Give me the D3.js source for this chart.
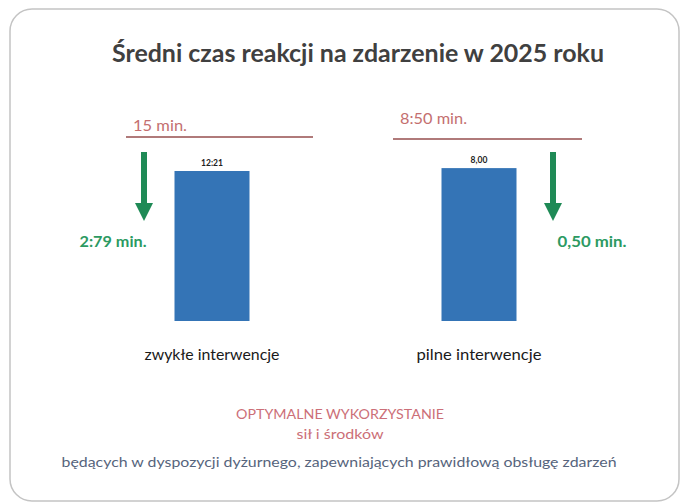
<!DOCTYPE html>
<html>
<head>
<meta charset="utf-8">
<script src="https://cdn.jsdelivr.net/npm/d3@7"></script>
<style>
  html, body { margin: 0; padding: 0; background: #fff; }
  svg { display: block; font-family: Lato, "Open Sans", sans-serif; }
</style>
</head>
<body>
<svg id="chart"></svg>
<script>
// data
let categories = ["zwykłe interwencje", "pilne interwencje"];
let values = [12.21, 8.00];
let valueLabels = ["12:21", "8,00"];
let axisMax = [14, 9];              // each bar sits on its own axis
let limitLabels = ["15 min.", "8:50 min."];
let diffLabels = ["2:79 min.", "0,50 min."];
let title = "Średni czas reakcji na zdarzenie w 2025 roku";
let footer = ["OPTYMALNE WYKORZYSTANIE", "sił i środków",
    "będących w dyspozycji dyżurnego, zapewniających prawidłową obsługę zdarzeń"];

let width = 681;
let height = 503;
let baseY = 321;
let plotTop = 149;
let barW = 75;

let svg = d3.select("#chart")
    .attr("width", width)
    .attr("height", height);

// rounded frame of the slide
svg.append("rect")
    .attr("x", 10).attr("y", 9)
    .attr("width", 669).attr("height", 492)
    .attr("rx", 22)
    .attr("fill", "white")
    .attr("stroke", "#c4c4c4")
    .attr("stroke-width", 1.5);

svg.append("text")
    .attr("x", 358).attr("y", 62)
    .attr("text-anchor", "middle")
    .attr("font-size", 25).attr("font-weight", "bold")
    .attr("fill", "#404040")
    .attr("textLength", 492).attr("lengthAdjust", "spacingAndGlyphs")
    .text(title);

let x = d3.scalePoint()
    .domain(categories)
    .range([212, 479]);

let y = values.map((v, i) => d3.scaleLinear()
    .domain([0, axisMax[i]])
    .range([baseY, plotTop]));

let panels = categories.map((c, i) => ({cat: c, value: values[i], i: i}));

// bars
svg.append("g")
    .selectAll("rect")
    .data(panels)
    .enter().append("rect")
    .attr("x", d => x(d.cat) - barW / 2)
    .attr("y", d => y[d.i](d.value))
    .attr("width", barW)
    .attr("height", d => baseY - y[d.i](d.value))
    .attr("fill", "#3474b6");

// value labels above bars
svg.append("g")
    .selectAll("text")
    .data(panels)
    .enter().append("text")
    .attr("x", d => x(d.cat))
    .attr("y", d => y[d.i](d.value) - 5)
    .attr("text-anchor", "middle")
    .attr("font-size", 8.5).attr("font-weight", "bold")
    .attr("fill", "#222")
    .text(d => valueLabels[d.i]);

// category labels
svg.append("g")
    .selectAll("text")
    .data(panels)
    .enter().append("text")
    .attr("x", d => x(d.cat))
    .attr("y", 360)
    .attr("text-anchor", "middle")
    .attr("font-size", 15)
    .attr("fill", "#1a1a1a")
    .attr("textLength", d => d.i === 0 ? 135 : 125)
    .attr("lengthAdjust", "spacingAndGlyphs")
    .text(d => d.cat);

// limit lines with their labels (annotation layout, per panel)
let limitLayout = [
    {x1: 126, x2: 313, ly: 137, tx: 133, ty: 131, tw: 54},
    {x1: 393, x2: 582, ly: 139, tx: 400, ty: 124, tw: 67}
];
let lim = svg.append("g");
limitLayout.forEach((l, i) => {
    lim.append("line")
        .attr("x1", l.x1).attr("x2", l.x2)
        .attr("y1", l.ly).attr("y2", l.ly)
        .attr("stroke", "#b07a7a").attr("stroke-width", 2);
    lim.append("text")
        .attr("x", l.tx).attr("y", l.ty)
        .attr("font-size", 16)
        .attr("fill", "#c46f6f")
        .attr("textLength", l.tw).attr("lengthAdjust", "spacingAndGlyphs")
        .text(limitLabels[i]);
});

// green arrows and difference labels
let arrowLayout = [
    {dx: -68, tx: 113, tw: 67},
    {dx: 74, tx: 592, tw: 69}
];
let arr = svg.append("g");
arrowLayout.forEach((a, i) => {
    let cx = x(categories[i]) + a.dx;
    arr.append("rect")
        .attr("x", cx - 3).attr("y", 152)
        .attr("width", 6).attr("height", 52)
        .attr("fill", "#1f8a56");
    arr.append("path")
        .attr("d", d3.line()([[cx - 9, 203], [cx + 9, 203], [cx, 221]]) + "Z")
        .attr("fill", "#1f8a56");
    arr.append("text")
        .attr("x", a.tx).attr("y", 247)
        .attr("text-anchor", "middle")
        .attr("font-size", 15).attr("font-weight", "bold")
        .attr("fill", "#2c9a62")
        .attr("textLength", a.tw).attr("lengthAdjust", "spacingAndGlyphs")
        .text(diffLabels[i]);
});

// footer lines
let footerStyle = [
    {y: 419, size: 14, fill: "#cc6f78", w: 208},
    {y: 439, size: 14, fill: "#cc6f78", w: 87},
    {y: 467, size: 14, fill: "#56647c", w: 555}
];
svg.append("g")
    .selectAll("text")
    .data(footer)
    .enter().append("text")
    .attr("x", (d, i) => i < 2 ? 340 : 339)
    .attr("y", (d, i) => footerStyle[i].y)
    .attr("text-anchor", "middle")
    .attr("font-size", (d, i) => footerStyle[i].size)
    .attr("fill", (d, i) => footerStyle[i].fill)
    .attr("textLength", (d, i) => footerStyle[i].w)
    .attr("lengthAdjust", "spacingAndGlyphs")
    .text(d => d);
</script>
</body>
</html>
